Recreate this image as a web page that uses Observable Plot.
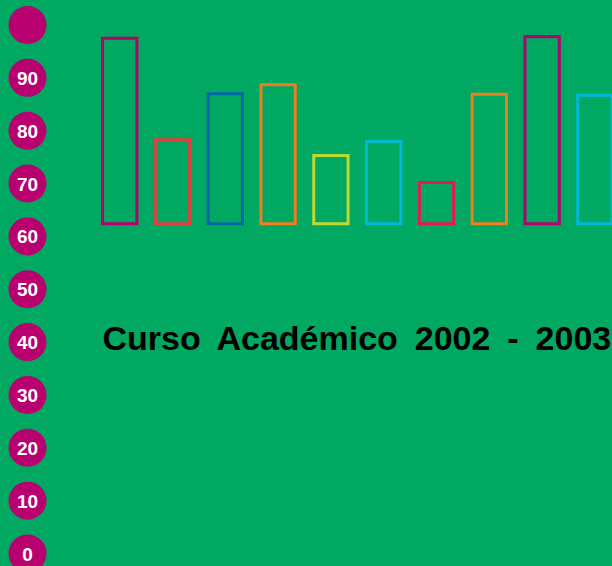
<!DOCTYPE html>
<html>
<head>
<meta charset="utf-8">
<script src="https://cdn.jsdelivr.net/npm/d3@7"></script>
<script src="https://cdn.jsdelivr.net/npm/@observablehq/plot@0.6"></script>
<style>
  html, body { margin: 0; padding: 0; background: #00A862; overflow: hidden; }
  #chart svg { display: block; }
  #chart svg text { word-spacing: 7.5px; }
</style>
</head>
<body>
<div id="chart"></div>
<script>
// Data
const categories = ["1", "2", "3", "4", "5", "6", "7", "8", "9", "10"];
const values = [97.4, 78.2, 86.9, 88.6, 75.2, 77.9, 70.1, 86.8, 97.7, 86.6];
const baseline = 62.3;
const barColors = ["#B5006E", "#E5403F", "#0067A6", "#F07D1E", "#C2D82E", "#00B9DA", "#E8194F", "#F07D1E", "#B5006E", "#00B9DA"];
const tickValues = [0, 10, 20, 30, 40, 50, 60, 70, 80, 90, 100];
const tickLabels = ["0", "10", "20", "30", "40", "50", "60", "70", "80", "90", ""];
const titleText = "Curso Académico 2002 - 2003";

const bars = categories.map((c, i) => ({cat: c, value: values[i], color: barColors[i]}));
const ticks = tickValues.map((v, i) => ({v, label: tickLabels[i]}));

const chart = Plot.plot({
  width: 612,
  height: 566,
  margin: 0,
  style: {background: "#00A862", fontFamily: "'Liberation Sans', Arial, sans-serif", overflow: "hidden"},
  x: {type: "band", domain: categories, range: [93.3, 621.3], paddingInner: 0.35, paddingOuter: 0.175, round: false, axis: null},
  y: {domain: [0, 100], range: [553, 24.5], axis: null},
  marks: [
    Plot.rectY(bars, {x: "cat", y1: baseline, y2: "value", fill: "none", stroke: "color", strokeWidth: 3}),
    Plot.dot(ticks, {y: "v", frameAnchor: "left", dx: 27, r: 19, fill: "#B8006F", stroke: null}),
    Plot.text(ticks, {y: "v", text: "label", frameAnchor: "left", dx: 27, dy: 1, fill: "white", fontSize: 19, fontWeight: "bold", textAnchor: "middle"}),
    Plot.text([titleText], {text: d => d, frameAnchor: "top-left", dx: 102, dy: 349.5, lineAnchor: "bottom", textAnchor: "start", fontSize: 34, fontWeight: "bold", fill: "black"})
  ]
});
document.getElementById("chart").appendChild(chart);
</script>
</body>
</html>
